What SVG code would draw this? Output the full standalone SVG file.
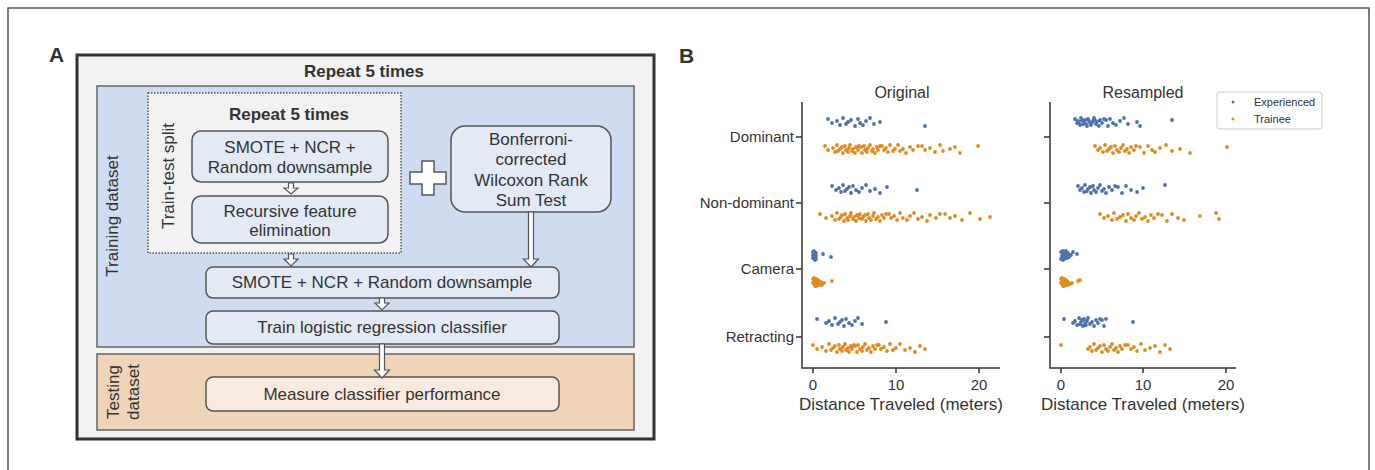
<svg xmlns="http://www.w3.org/2000/svg" width="1375" height="470" viewBox="0 0 1375 470">
<style>
text{font-family:"Liberation Sans",Arial,sans-serif;fill:#333;font-size:17px}
.b{font-weight:bold}
.m{text-anchor:middle}
.e{text-anchor:end}
.node{fill:#e3eaf6;stroke:#555;stroke-width:1.5}
.harrow{fill:#fff;stroke:#555;stroke-width:1.2;stroke-linejoin:miter}
.ax{stroke:#333;stroke-width:1.5;fill:none}
.bl{fill:none;stroke:#4c72b0;stroke-width:3.8;stroke-linecap:round}
.or{fill:none;stroke:#e08b22;stroke-width:3.8;stroke-linecap:round}
.t15{font-size:15px}
.t16{font-size:16px}
</style>
<rect x="8" y="8" width="1361" height="480" fill="#fff" stroke="#555" stroke-width="1.5"/>
<text x="49" y="62" class="b" style="font-size:21px">A</text>
<text x="679" y="63" class="b" style="font-size:21px">B</text>

<g id="outer-repeat">
<rect x="77" y="55" width="577" height="384" fill="#f2f2f2" stroke="#333" stroke-width="3"/>
<text x="364" y="77" class="b m">Repeat 5 times</text>
</g>
<g id="training-dataset">
<rect x="97" y="86" width="537" height="261" fill="#cfdbf0" stroke="#666" stroke-width="1.5"/>
<text transform="translate(118,216) rotate(-90)" class="m">Training dataset</text>
</g>
<g id="train-test-split">
<rect x="148" y="93" width="253" height="160" fill="#f2f2f2" stroke="#555" stroke-width="1.5" stroke-dasharray="1.5,1.5"/>
<text transform="translate(174,176) rotate(-90)" class="m">Train-test split</text>
<text x="289" y="120" class="b m">Repeat 5 times</text>
</g>
<g id="smote-inner">
<rect x="192" y="131" width="196" height="51" rx="9" class="node"/>
<text x="290" y="153" class="m">SMOTE + NCR +</text>
<text x="290" y="173" class="m">Random downsample</text>
</g>
<g id="rfe">
<rect x="192" y="196" width="196" height="47" rx="9" class="node"/>
<text x="290" y="217" class="m">Recursive feature</text>
<text x="290" y="236" class="m">elimination</text>
</g>
<g id="plus">
<path d="M422 161h12v11h12v12h-12v11h-12v-11h-12v-12h12z" fill="#fff" stroke="#555" stroke-width="1.5"/>
</g>
<g id="bonferroni">
<rect x="451" y="126" width="160" height="86" rx="14" class="node"/>
<text x="531" y="145" class="m">Bonferroni-</text>
<text x="531" y="165" class="m">corrected</text>
<text x="531" y="186" class="m">Wilcoxon Rank</text>
<text x="531" y="206" class="m">Sum Test</text>
</g>
<g id="smote-outer">
<rect x="206" y="267" width="353" height="31" rx="7" class="node"/>
<text x="382" y="288" class="m">SMOTE + NCR + Random downsample</text>
</g>
<g id="train-lr">
<rect x="206" y="311" width="353" height="33" rx="7" class="node"/>
<text x="382" y="333" class="m">Train logistic regression classifier</text>
</g>
<g id="testing-dataset">
<rect x="97" y="354" width="537" height="76" fill="#efd4b7" stroke="#666" stroke-width="1.5"/>
<text transform="translate(119,392) rotate(-90)" class="m">Testing</text>
<text transform="translate(139,392) rotate(-90)" class="m">dataset</text>
</g>
<g id="measure">
<rect x="206" y="377" width="353" height="34" rx="7" fill="#f8eadf" stroke="#555" stroke-width="1.5"/>
<text x="382" y="400" class="m">Measure classifier performance</text>
</g>

<g id="connectors">
<path class="harrow" d="M288.5 183h5v5h4.5l-7 6l-7-6h4.5z"/>
<path class="harrow" d="M288.5 254h5v5h4.5l-7 7l-7-7h4.5z"/>
<path class="harrow" d="M528.5 212h5v47h5l-7.5 8l-7.5-8h5z"/>
<path class="harrow" d="M379.5 298h5v5h4.5l-7 7l-7-7h4.5z"/>
<path class="harrow" d="M379.5 344h5v26h5l-7.5 8l-7.5-8h5z"/>
</g>

<g id="plot-original">
<text x="902" y="98" class="m t16">Original</text>
<path class="ax" d="M802 102V368H1000M796 137h6M796 203h6M796 269h6M796 337h6M813 368v5M896 368v5M979 368v5"/>
<text x="794" y="142" class="e t15">Dominant</text>
<text x="794" y="208" class="e t15">Non-dominant</text>
<text x="794" y="274" class="e t15">Camera</text>
<text x="794" y="342" class="e t15">Retracting</text>
<text x="813" y="390" class="m t15">0</text>
<text x="896" y="390" class="m t15">10</text>
<text x="979" y="390" class="m t15">20</text>
<text x="901" y="410" class="m">Distance Traveled (meters)</text>
<path class="bl" d="M828 119h0M832 123h0M837 121h0M840 125h0M843 118h0M846 124h0M848 122h0M851 120h0M855 126h0M858 119h0M860 123h0M863 125h0M866 121h0M870 118h0M874 124h0M880 122h0M925 126h0
M832 186h0M836 190h0M839 188h0M841 192h0M843 185h0M845 191h0M847 189h0M849 187h0M851 193h0M853 186h0M856 190h0M859 192h0M862 188h0M866 185h0M870 191h0M875 189h0M880 193h0M887 187h0M917 190h0
M813 252h0M814 257h0M815 254h0M816 259h0M813 255h0M814 251h0M815 258h0M816 253h0M814 256h0M815 260h0M813 258h0M816 256h0M823 254h0M831 257h0
M817 319h0M826 323h0M829 321h0M832 325h0M835 318h0M838 324h0M840 322h0M842 320h0M844 326h0M846 319h0M849 323h0M852 325h0M855 321h0M858 318h0M862 324h0M886 322h0"/>
<path class="or" d="M825 146h0M828 150h0M833 148h0M835 152h0M837 145h0M838 151h0M840 149h0M842 147h0M843 153h0M845 146h0M846 150h0M848 152h0M849 148h0M850 145h0M852 151h0M853 149h0M855 153h0M856 147h0M858 150h0M859 146h0
M861 147h0M862 153h0M864 146h0M865 150h0M867 152h0M868 148h0M870 145h0M872 151h0M873 149h0M875 153h0M877 147h0M878 150h0M880 146h0M882 146h0M884 150h0M886 148h0M888 152h0M890 145h0M893 151h0M895 149h0
M898 145h0M900 151h0M903 149h0M906 153h0M910 147h0M913 150h0M918 146h0M922 146h0M925 150h0M930 148h0M935 152h0M940 145h0M943 151h0M950 149h0M955 147h0M960 153h0M978 146h0
M820 214h0M826 218h0M832 216h0M835 220h0M837 213h0M839 219h0M841 217h0M842 215h0M844 221h0M845 214h0M847 218h0M848 220h0M850 216h0M851 213h0M853 219h0M854 217h0M856 221h0M857 215h0M859 218h0M860 214h0
M862 219h0M863 217h0M865 215h0M866 221h0M868 214h0M869 218h0M871 220h0M873 216h0M874 213h0M876 219h0M878 217h0M880 221h0M882 215h0M884 218h0M886 214h0M889 214h0M891 218h0M894 216h0M897 220h0M900 213h0
M903 218h0M907 220h0M910 216h0M914 213h0M918 219h0M922 217h0M927 221h0M930 215h0M936 218h0M940 214h0M945 214h0M950 218h0M955 216h0M962 220h0M970 213h0M980 219h0M990 217h0
M813 279h0M814 284h0M815 281h0M816 286h0M817 280h0M818 283h0M819 285h0M813 283h0M814 278h0M815 286h0M816 282h0M817 285h0M818 280h0M820 284h0M821 282h0M822 285h0M814 281h0M816 279h0M819 282h0M824 283h0M832 281h0
M813 345h0M817 349h0M822 347h0M826 351h0M829 344h0M831 350h0M833 348h0M835 346h0M837 352h0M839 345h0M840 349h0M842 351h0M843 347h0M845 344h0M846 350h0M848 348h0M849 352h0M851 346h0M852 349h0M854 345h0
M855 346h0M857 352h0M858 345h0M860 349h0M862 351h0M863 347h0M865 344h0M867 350h0M869 348h0M871 352h0M873 346h0M875 349h0M877 345h0M879 345h0M881 349h0M884 347h0M887 351h0M890 344h0M893 350h0M896 348h0
M900 344h0M905 350h0M910 348h0M915 352h0M920 346h0M925 349h0"/>
</g>

<g id="plot-resampled">
<text x="1143" y="98" class="m t16">Resampled</text>
<path class="ax" d="M1050 102V368H1236M1044 137h6M1044 203h6M1044 269h6M1044 337h6M1061 368v5M1143 368v5M1226 368v5"/>
<text x="1061" y="390" class="m t15">0</text>
<text x="1143" y="390" class="m t15">10</text>
<text x="1226" y="390" class="m t15">20</text>
<text x="1143" y="410" class="m">Distance Traveled (meters)</text>
<path class="bl" d="M1075 119h0M1077 123h0M1078 121h0M1080 125h0M1081 118h0M1083 124h0M1084 122h0M1085 120h0M1087 126h0M1088 119h0M1090 123h0M1091 125h0M1093 121h0M1094 118h0M1096 124h0M1097 122h0M1099 126h0M1100 120h0M1102 123h0M1104 119h0
M1106 120h0M1108 126h0M1110 119h0M1113 123h0M1116 125h0M1120 121h0M1124 118h0M1128 124h0M1137 122h0M1140 126h0M1172 120h0M1079 122h0M1082 120h0M1086 124h0M1089 121h0M1092 123h0M1095 120h0
M1078 186h0M1080 190h0M1082 188h0M1084 192h0M1085 185h0M1087 191h0M1088 189h0M1090 187h0M1091 193h0M1093 186h0M1094 190h0M1096 192h0M1098 188h0M1100 185h0M1102 191h0M1104 189h0M1106 193h0M1109 187h0M1112 190h0M1115 186h0
M1118 187h0M1122 193h0M1126 186h0M1131 190h0M1137 192h0M1143 188h0M1165 185h0
M1061 252h0M1062 257h0M1063 254h0M1064 259h0M1065 255h0M1066 251h0M1067 258h0M1068 253h0M1062 256h0M1063 260h0M1064 252h0M1065 258h0M1066 255h0M1067 254h0M1061 259h0M1063 251h0M1065 253h0M1069 257h0M1071 255h0M1073 252h0M1077 254h0
M1064 319h0M1073 323h0M1075 321h0M1077 325h0M1079 318h0M1080 324h0M1081 322h0M1082 320h0M1083 326h0M1084 319h0M1085 323h0M1086 325h0M1087 321h0M1088 318h0M1090 324h0M1092 322h0M1094 326h0M1096 320h0M1098 323h0M1100 319h0M1102 320h0M1104 326h0M1106 319h0M1133 322h0"/>
<path class="or" d="M1095 146h0M1098 150h0M1100 148h0M1103 152h0M1105 145h0M1107 151h0M1109 149h0M1111 147h0M1113 153h0M1115 146h0M1117 150h0M1119 152h0M1121 148h0M1123 145h0M1125 151h0M1127 149h0M1129 153h0M1131 147h0M1134 150h0M1136 146h0
M1140 147h0M1144 153h0M1148 146h0M1152 150h0M1155 152h0M1160 148h0M1166 145h0M1172 151h0M1180 149h0M1190 153h0M1227 147h0
M1100 214h0M1104 218h0M1108 216h0M1112 220h0M1114 213h0M1117 219h0M1120 217h0M1123 215h0M1126 221h0M1128 214h0M1131 218h0M1134 220h0M1136 216h0M1139 213h0M1142 219h0M1145 217h0M1148 221h0M1151 215h0M1154 218h0M1158 214h0
M1162 215h0M1167 221h0M1172 214h0M1178 218h0M1184 220h0M1200 216h0M1216 213h0M1219 219h0
M1061 279h0M1062 284h0M1063 281h0M1064 286h0M1065 280h0M1066 283h0M1067 285h0M1068 282h0M1069 284h0M1062 278h0M1063 286h0M1064 282h0M1065 285h0M1066 280h0M1061 283h0M1064 279h0M1070 284h0M1072 283h0M1078 281h0M1080 280h0
M1061 345h0M1088 349h0M1090 347h0M1092 351h0M1094 344h0M1096 350h0M1098 348h0M1100 346h0M1102 352h0M1104 345h0M1106 349h0M1108 351h0M1110 347h0M1112 344h0M1114 350h0M1116 348h0M1118 352h0M1120 346h0M1122 349h0M1125 345h0M1128 345h0
M1131 349h0M1134 347h0M1137 351h0M1141 344h0M1145 350h0M1150 348h0M1155 346h0M1160 352h0M1165 345h0M1170 349h0"/>
</g>

<g id="legend">
<rect x="1217" y="92" width="105" height="37" rx="3" fill="#fff" stroke="#ccc" stroke-width="1"/>
<path class="bl" style="stroke-width:3" d="M1233 102h0"/>
<path class="or" style="stroke-width:3" d="M1233 119h0"/>
<text x="1254" y="106" style="font-size:11px">Experienced</text>
<text x="1254" y="123" style="font-size:11px">Trainee</text>
</g>
</svg>
